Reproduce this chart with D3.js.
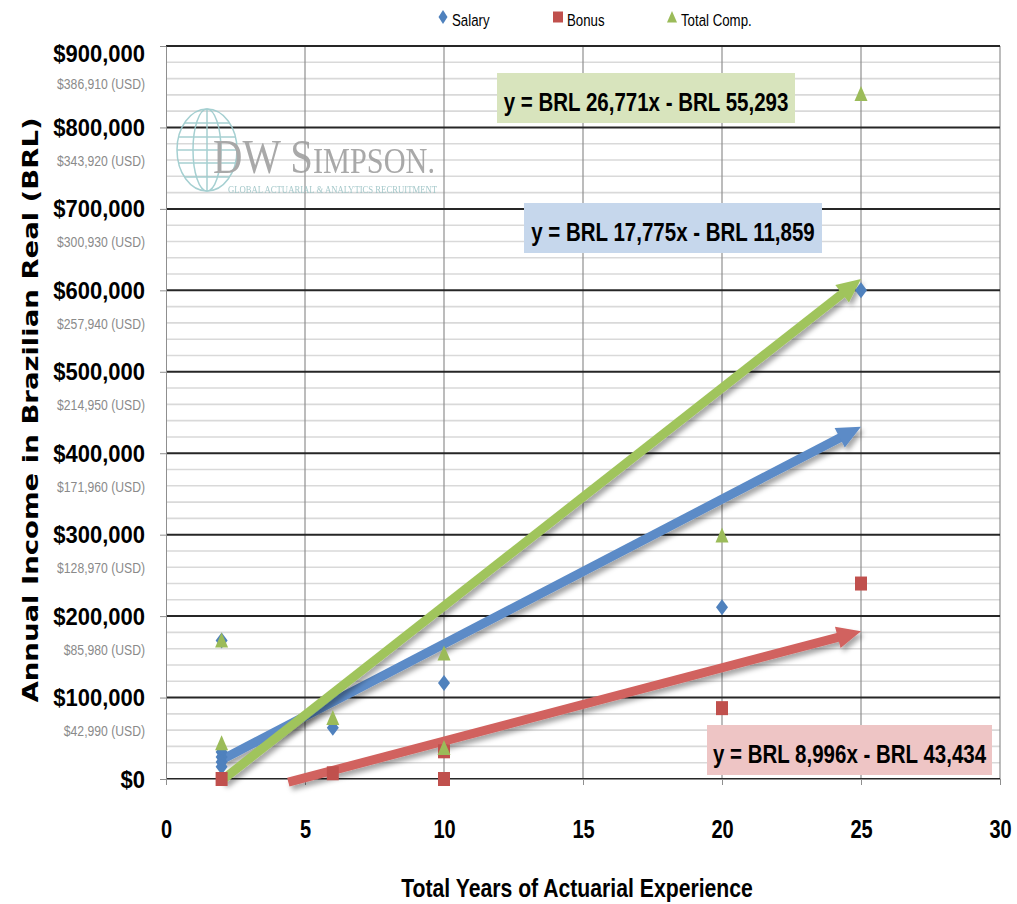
<!DOCTYPE html>
<html>
<head>
<meta charset="utf-8">
<script src="https://cdn.jsdelivr.net/npm/d3@7"></script>
<style>
  body { margin: 0; background: #ffffff; }
  svg { display: block; }
</style>
</head>
<body>
<svg id="chart" width="1017" height="904"></svg>
<script>
// ---------------- DATA ----------------
const xTickValues = [0, 5, 10, 15, 20, 25, 30];
const yTickValues = [0, 100000, 200000, 300000, 400000, 500000, 600000, 700000, 800000, 900000];
const usdLabels = ["", "$42,990 (USD)", "$85,980 (USD)", "$128,970 (USD)", "$171,960 (USD)",
                   "$214,950 (USD)", "$257,940 (USD)", "$300,930 (USD)", "$343,920 (USD)", "$386,910 (USD)"];
const seriesNames = ["Salary", "Bonus", "Total Comp."];

const salaryX = [2, 2, 2, 2, 2, 6, 10, 20, 25];
const salaryY = [170000, 33000, 27000, 21000, 15000, 63000, 118000, 211000, 600000];
const bonusX = [2, 6, 10, 10, 20, 25];
const bonusY = [0, 7000, 34000, 0, 87000, 240000];
const totalX = [2, 2, 6, 10, 10, 20, 25];
const totalY = [170000, 44000, 75000, 154000, 38000, 299000, 841000];

const trendSlope = [17775, 8996, 26771];
const trendIntercept = [-11859, -43434, -55293];
const trendFromX = [2, 4.4, 2];
const trendToX = [25, 25, 25];
const trendLabels = ["y = BRL 17,775x - BRL 11,859", "y = BRL 8,996x - BRL 43,434", "y = BRL 26,771x - BRL 55,293"];

const axisTitleX = "Total Years of Actuarial Experience";
const axisTitleY = "Annual Income in Brazilian Real (BRL)";

// ---------------- STYLE ----------------
const markerColors = ["#4f81bd", "#c0504d", "#9bbb59"];
const lineColors = ["#5b8bc7", "#d1625f", "#a0c45c"];
const boxColors = ["#c6d7ec", "#eec5c5", "#d8e4bd"];
const SANS = "'Liberation Sans', Arial, sans-serif";

const svg = d3.select("#chart");
const x = d3.scaleLinear().domain([0, 30]).range([166, 1000]);
const y = d3.scaleLinear().domain([0, 900000]).range([779, 46]);

const defs = svg.append("defs");
const f = defs.append("filter").attr("id", "shadow").attr("x", "-20%").attr("y", "-20%").attr("width", "140%").attr("height", "140%");
f.append("feDropShadow").attr("dx", 3).attr("dy", 4).attr("stdDeviation", 2.5)
  .attr("flood-color", "#000").attr("flood-opacity", 0.35);

// ---------------- GRID ----------------
const grid = svg.append("g");
grid.selectAll("line.minor").data(d3.range(0, 900001, 20000).filter(v => v % 100000 !== 0))
  .join("line").attr("x1", x(0)).attr("x2", x(30))
  .attr("y1", d => y(d)).attr("y2", d => y(d))
  .attr("stroke", "#d9d9d9").attr("stroke-width", 1.6);
grid.selectAll("line.vert").data(xTickValues.filter(v => v > 0))
  .join("line").attr("x1", d => x(d)).attr("x2", d => x(d))
  .attr("y1", y(900000)).attr("y2", y(0))
  .attr("stroke", "#8f8f8f").attr("stroke-width", 1.2);
grid.selectAll("line.major").data(yTickValues)
  .join("line").attr("x1", x(0)).attr("x2", x(30))
  .attr("y1", d => y(d)).attr("y2", d => y(d))
  .attr("stroke", "#262626").attr("stroke-width", 2);

// ---------------- LOGO (watermark) ----------------
const logo = svg.append("g").attr("opacity", 0.9);
const gc = logo.append("g").attr("fill", "none").attr("stroke", "#9ccbcd").attr("stroke-width", 1.5);
gc.append("ellipse").attr("cx", 207).attr("cy", 150).attr("rx", 30).attr("ry", 41);
gc.append("ellipse").attr("cx", 207).attr("cy", 150).attr("rx", 14).attr("ry", 41);
gc.append("line").attr("x1", 207).attr("x2", 207).attr("y1", 109).attr("y2", 191);
[-27, -13, 0, 13, 27].forEach(dy => {
  const hw = 30 * Math.sqrt(1 - (dy / 41) ** 2);
  gc.append("line").attr("x1", 207 - hw).attr("x2", 207 + hw).attr("y1", 150 + dy).attr("y2", 150 + dy);
});
const lt = logo.append("text").attr("transform", "translate(213,173) scale(1,1.4)")
  .attr("font-family", "'Liberation Serif', 'Times New Roman', serif").attr("fill", "#a0a0a0")
  .attr("textLength", 222).attr("lengthAdjust", "spacingAndGlyphs");
lt.append("tspan").attr("font-size", 35).text("DW S");
lt.append("tspan").attr("font-size", 26).text("IMPSON.");
logo.append("text").attr("x", 228).attr("y", 193)
  .attr("font-family", "'Liberation Serif', 'Times New Roman', serif").attr("font-size", 9.5)
  .attr("fill", "#9cc3c5").attr("textLength", 209).attr("lengthAdjust", "spacingAndGlyphs")
  .text("GLOBAL ACTUARIAL & ANALYTICS RECRUITMENT");

// ---------------- AXES ----------------
const xAxis = svg.append("g").attr("transform", `translate(0,${y(0)})`)
  .call(d3.axisBottom(x).tickValues(xTickValues).tickSize(6).tickSizeOuter(0).tickFormat(d3.format("d")));
xAxis.select(".domain").attr("stroke", "#8f8f8f");
xAxis.selectAll(".tick line").attr("stroke", "#8f8f8f");
xAxis.selectAll(".tick text")
  .attr("y", 59).attr("dy", 0)
  .attr("transform", "scale(0.8,1)")
  .attr("font-family", SANS).attr("font-weight", "bold").attr("font-size", 25).attr("fill", "#000");

const yAxis = svg.append("g").attr("transform", `translate(${x(0)},0)`)
  .call(d3.axisLeft(y).tickValues(yTickValues).tickSize(6).tickSizeOuter(0)
        .tickFormat(d => "$" + d3.format(",")(d)));
yAxis.select(".domain").attr("stroke", "#8f8f8f");
yAxis.selectAll(".tick line").attr("stroke", "#8f8f8f");
yAxis.selectAll(".tick text")
  .attr("transform", "scale(1,1.1)")
  .attr("x", -21).attr("y", d => (d === 900000 ? 15 : 8) / 1.1).attr("dy", 0)
  .attr("font-family", SANS).attr("font-weight", "bold").attr("font-size", 22).attr("fill", "#000");
yAxis.selectAll(".tick").each(function(d, i) {
  const lab = usdLabels[yTickValues.indexOf(d)];
  if (!lab) return;
  d3.select(this).append("text")
    .attr("transform", "scale(0.87,1)")
    .attr("x", -21 / 0.87).attr("y", d === 900000 ? 43 : 38)
    .attr("text-anchor", "end")
    .attr("font-family", SANS).attr("font-size", 14).attr("fill", "#8a8a8a")
    .text(lab);
});

// axis titles
svg.append("text").attr("transform", "translate(577,897) scale(0.8,1)")
  .attr("text-anchor", "middle").attr("font-family", SANS).attr("font-weight", "bold")
  .attr("font-size", 26.5).attr("fill", "#000").text(axisTitleX);
svg.append("text").attr("transform", "translate(38,410) rotate(-90)")
  .attr("text-anchor", "middle").attr("font-family", "'DejaVu Sans', Verdana, sans-serif")
  .attr("font-weight", "bold").attr("font-size", 21).attr("fill", "#000")
  .attr("textLength", 585).attr("lengthAdjust", "spacingAndGlyphs")
  .text(axisTitleY);

// ---------------- EQUATION BOXES ----------------
const boxRects = [[524, 203, 298, 50], [707, 725, 285, 50], [497, 73, 298, 50]];
trendLabels.forEach((t, i) => {
  const [bx, by, bw, bh] = boxRects[i];
  svg.append("rect").attr("x", bx).attr("y", by).attr("width", bw).attr("height", bh).attr("fill", boxColors[i]);
  svg.append("text").attr("transform", `translate(${bx + bw / 2},${by + 38}) scale(0.82,1.05)`)
    .attr("text-anchor", "middle").attr("font-family", SANS).attr("font-weight", "bold")
    .attr("font-size", 25).attr("fill", "#000").text(t);
});

// ---------------- TREND ARROWS ----------------
const arrowOrder = [1, 0, 2];
arrowOrder.forEach(i => {
  const x0 = x(trendFromX[i]), y0 = y(trendSlope[i] * trendFromX[i] + trendIntercept[i]);
  const x1 = x(trendToX[i]), y1 = y(trendSlope[i] * trendToX[i] + trendIntercept[i]);
  const dx = x1 - x0, dy = y1 - y0, len = Math.hypot(dx, dy);
  const ux = dx / len, uy = dy / len, nx = -uy, ny = ux;
  const L = 24, W = 11;
  const bx = x1 - ux * L, by = y1 - uy * L;
  const g = svg.append("g").attr("filter", "url(#shadow)");
  g.append("line").attr("x1", x0).attr("y1", y0).attr("x2", bx + ux * 2).attr("y2", by + uy * 2)
    .attr("stroke", lineColors[i]).attr("stroke-width", 9);
  g.append("path").attr("d", `M${x1},${y1}L${bx + nx * W},${by + ny * W}L${bx - nx * W},${by - ny * W}Z`)
    .attr("fill", lineColors[i]);
});

// ---------------- MARKERS ----------------
const diamond = "M0,-8L6,0L0,8L-6,0Z";
const square = "M-6,-7L6,-7L6,7L-6,7Z";
const triangle = "M0,-8L6.5,7L-6.5,7Z";
const shapes = [diamond, square, triangle];
const series = [
  salaryX.map((v, k) => [v, salaryY[k]]),
  bonusX.map((v, k) => [v, bonusY[k]]),
  totalX.map((v, k) => [v, totalY[k]])
];
series.forEach((pts, i) => {
  svg.append("g").selectAll("path").data(pts).join("path")
    .attr("d", shapes[i])
    .attr("transform", d => `translate(${x(d[0])},${y(d[1])})`)
    .attr("fill", markerColors[i]);
});

// ---------------- LEGEND ----------------
const legendPos = [443, 558, 672];
const legendShapes = ["M0,-7L4.5,0L0,7L-4.5,0Z", "M-5,-5.5L5,-5.5L5,5.5L-5,5.5Z", "M0,-6L5,5.5L-5,5.5Z"];
seriesNames.forEach((n, i) => {
  svg.append("path").attr("d", legendShapes[i]).attr("transform", `translate(${legendPos[i]},17)`)
    .attr("fill", markerColors[i]);
  svg.append("text").attr("transform", `translate(${legendPos[i] + 9},26) scale(0.78,1)`)
    .attr("font-family", SANS).attr("font-size", 17).attr("fill", "#000").text(n);
});
</script>
</body>
</html>
